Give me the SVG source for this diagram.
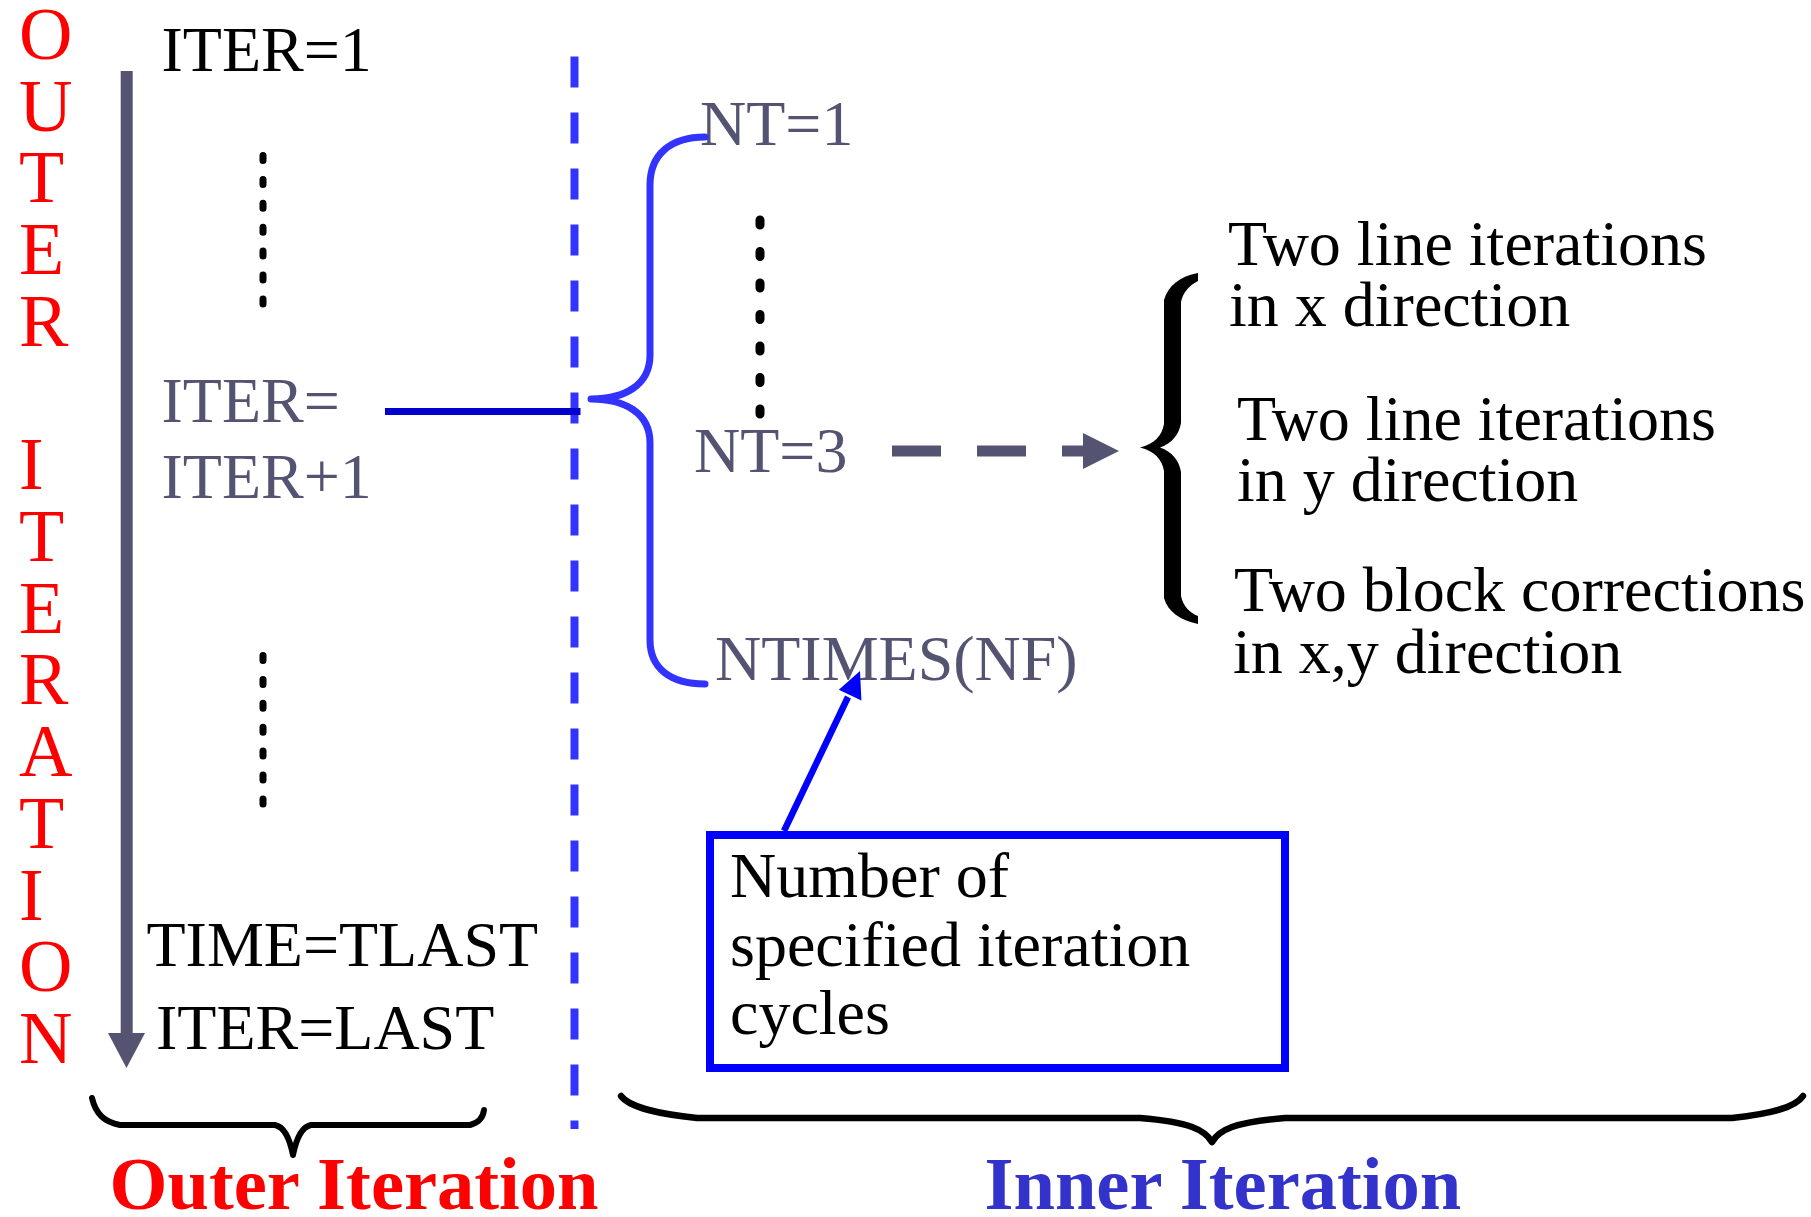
<svg xmlns="http://www.w3.org/2000/svg" width="1811" height="1217" viewBox="0 0 1811 1217">
<style>
text{font-family:"Liberation Serif","Times New Roman",serif;font-size:64px}
.blk{fill:#000}
.gry{fill:#545472}
.red{fill:#ff0000;font-size:74px}
.lbl{font-weight:bold;font-size:74.5px}
.dots{stroke:#000;stroke-linecap:round;fill:none}
</style>
<rect width="1811" height="1217" fill="#fff"/>
<g id="outer-vertical-label">
<text class="red" x="19" y="59">O</text>
<text class="red" x="19" y="131">U</text>
<text class="red" x="19" y="202">T</text>
<text class="red" x="19" y="274">E</text>
<text class="red" x="19" y="346">R</text>
<text class="red" x="19" y="489">I</text>
<text class="red" x="19" y="561">T</text>
<text class="red" x="19" y="633">E</text>
<text class="red" x="19" y="704">R</text>
<text class="red" x="19" y="776">A</text>
<text class="red" x="19" y="848">T</text>
<text class="red" x="19" y="920">I</text>
<text class="red" x="19" y="991">O</text>
<text class="red" x="19" y="1063">N</text>
</g>
<g id="iter1"><text class="blk" x="161.5" y="71">ITER=1</text></g>
<g id="iter-next"><text class="gry" x="161.5" y="422">ITER=</text><text class="gry" x="161.5" y="498">ITER+1</text></g>
<g id="iter-last"><text class="blk" x="146.5" y="966">TIME=TLAST</text><text class="blk" x="156" y="1049">ITER=LAST</text></g>
<g id="nt1"><text class="gry" x="700" y="145">NT=1</text></g>
<g id="nt3"><text class="gry" x="694" y="472">NT=3</text></g>
<g id="ntimes"><text class="gry" x="715" y="680">NTIMES(NF)</text></g>
<g id="inner-steps">
<text class="blk" x="1228" y="265">Two line iterations</text>
<text class="blk" x="1229" y="326">in x direction</text>
<text class="blk" x="1237" y="440">Two line iterations</text>
<text class="blk" x="1237" y="501">in y direction</text>
<text class="blk" x="1234" y="611">Two block corrections</text>
<text class="blk" x="1233" y="673">in x,y direction</text>
</g>
<g id="note-box">
<rect x="710" y="835" width="575" height="233" fill="none" stroke="#0000ff" stroke-width="8"/>
<text class="blk" x="730" y="897">Number of</text>
<text class="blk" x="730" y="966">specified iteration</text>
<text class="blk" x="730" y="1034">cycles</text>
</g>
<g id="outer-label"><text class="lbl" x="109.5" y="1209" fill="#ff0000">Outer Iteration</text></g>
<g id="inner-label"><text class="lbl" x="984.5" y="1209" fill="#3333cc">Inner Iteration</text></g>
<g id="dots">
<line class="dots" x1="263" y1="155.5" x2="263" y2="304.4" stroke-width="7" stroke-dasharray="5 18.9"/>
<line class="dots" x1="263" y1="655.5" x2="263" y2="804.4" stroke-width="7" stroke-dasharray="5 18.9"/>
<line class="dots" x1="760" y1="220" x2="760" y2="414" stroke-width="9" stroke-dasharray="5 26.5"/>
</g>
<g id="braces" fill="none" stroke-linecap="round" stroke-linejoin="round">
<path d="M591,399 C625,399 650,385 650,355 L650,185 C650,155 670,137 705,137 M591,399 C625,399 650,413 650,443 L650,640 C650,668 670,684 705,684" stroke="#3333ff" stroke-width="7"/>
<path d="M1198,273 C1180,276 1168,286 1164,300 L1164,424 C1162,436 1154,444 1140,447.5 C1154,451 1162,459 1164,471 L1164,598 C1168,612 1180,620 1198,624 L1198,616 C1190,613 1183,606 1181,596 L1181,472 C1179,460 1172,452 1160,447.5 C1172,443 1179,435 1181,423 L1181,302 C1183,292 1190,285 1198,281 Z" fill="#000" stroke="none"/>
<path d="M293,1155 C290,1140 285,1127 275,1125 L120,1125 C105,1122 96,1115 92,1098 M293,1155 C296,1140 301,1127 311,1125 L470,1125 C478,1123 483,1118 484,1110" stroke="#000" stroke-width="6"/>
<path d="M1212,1142 C1205,1130 1190,1122 1140,1118 L697,1118 C660,1114 630,1108 621,1096 M1212,1142 C1219,1130 1234,1122 1285,1118 L1732,1118 C1770,1114 1795,1108 1803,1096" stroke="#000" stroke-width="6.5"/>
</g>
<g id="connectors">
<line x1="574.5" y1="56.6" x2="574.5" y2="1129" stroke="#3333ff" stroke-width="8" stroke-dasharray="31 25"/>
<line x1="126.7" y1="71" x2="126.7" y2="1034" stroke="#545472" stroke-width="12"/>
<polygon points="108,1033 145,1033 126.5,1068" fill="#545472"/>
<line x1="385" y1="411.4" x2="580.5" y2="411.4" stroke="#0000cc" stroke-width="7"/>
<line x1="892" y1="451" x2="1083" y2="451" stroke="#545472" stroke-width="11" stroke-dasharray="49 36"/>
<polygon points="1083,433 1119,451 1083,469" fill="#545472"/>
<line x1="784" y1="831" x2="848" y2="697" stroke="#0000ff" stroke-width="6.5"/>
<polygon points="860,671 838.8,689.8 861.4,700.6" fill="#0000ff"/>
</g>
</svg>
